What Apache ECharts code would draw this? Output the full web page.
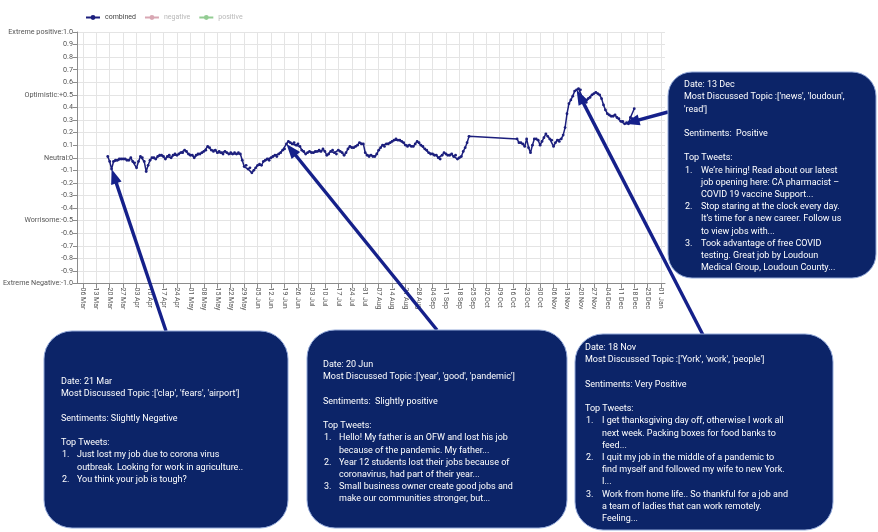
<!DOCTYPE html>
<html>
<head>
<meta charset="utf-8">
<script src="https://cdn.jsdelivr.net/npm/echarts@6/dist/echarts.min.js"></script>
<style>
  html, body { margin: 0; padding: 0; background: #ffffff; }
  #chart { width: 878px; height: 532px; }
</style>
</head>
<body>
<div id="chart"></div>
<script>
// ---- data -------------------------------------------------------------
// x positions are day numbers counted from 06 Mar 2020
const axisStartDate = '2020-03-06';

// daily combined sentiment, first stretch (starts 19 Mar)
const stretchOneStart = '2020-03-19';
const stretchOneValues = [
  0.01, -0.03, -0.09, -0.03, -0.02, -0.02, -0.01, -0.01, -0.01, -0.01,
  -0.02, -0.02, 0.00, -0.03, -0.04, -0.08, -0.03, 0.01, 0.00, -0.03,
  -0.11, -0.06, -0.02, 0.00, 0.00, -0.01, 0.01, 0.02, 0.02, 0.01,
  -0.01, 0.01, 0.02, 0.00, 0.02, 0.03, 0.02, 0.03, 0.04, 0.04,
  0.06, 0.05, 0.03, 0.02, 0.02, 0.00, 0.02, 0.03, 0.03, 0.04,
  0.05, 0.06, 0.09, 0.08, 0.06, 0.05, 0.06, 0.04, 0.05, 0.04,
  0.03, 0.05, 0.04, 0.03, 0.04, 0.03, 0.04, 0.03, 0.04, 0.03,
  -0.02, -0.07, -0.06, -0.09, -0.08, -0.12, -0.10, -0.08, -0.06, -0.05,
  -0.06, -0.03, -0.02, -0.01, -0.02, 0.00, 0.01, 0.02, 0.01, 0.03,
  0.04, 0.06, 0.07, 0.11, 0.13, 0.12, 0.11, 0.12, 0.10, 0.11,
  0.09, 0.06, 0.05, 0.03, 0.04, 0.05, 0.04, 0.04, 0.05, 0.05,
  0.06, 0.05, 0.07, 0.05, 0.02, 0.03, 0.05, 0.06, 0.04, 0.03,
  0.06, 0.05, 0.04, 0.02, 0.04, 0.07, 0.09, 0.08, 0.08, 0.09,
  0.10, 0.12, 0.11, 0.11, 0.04, 0.02, 0.01, 0.02, 0.01, 0.01,
  0.03, 0.06, 0.08, 0.10, 0.09, 0.11, 0.11, 0.12, 0.13, 0.14,
  0.15, 0.14, 0.14, 0.13, 0.12, 0.10, 0.09, 0.10, 0.09, 0.09,
  0.11, 0.13, 0.12, 0.10, 0.09, 0.07, 0.06, 0.04, 0.03, 0.03,
  0.02, 0.02, 0.00, -0.01, 0.02, 0.04, 0.03, 0.02, 0.02, 0.03,
  0.01, 0.02, -0.01, 0.00, 0.01, 0.05, 0.08, 0.12, 0.17
];

// daily combined sentiment, second stretch (starts 18 Oct)
const stretchTwoStart = '2020-10-18';
const stretchTwoValues = [
  0.15, 0.12, 0.12, 0.11, 0.09, 0.15, 0.08, 0.04, 0.10, 0.15,
  0.15, 0.14, 0.10, 0.13, 0.16, 0.19, 0.17, 0.15, 0.14, 0.09,
  0.12, 0.14, 0.13, 0.15, 0.18, 0.24, 0.35, 0.43, 0.46, 0.49,
  0.53, 0.54, 0.55, 0.54, 0.48, 0.45, 0.44, 0.47, 0.48, 0.50,
  0.51, 0.52, 0.51, 0.50, 0.47, 0.42, 0.38, 0.35, 0.34, 0.33,
  0.33, 0.34, 0.32, 0.31, 0.29, 0.29, 0.27, 0.28, 0.27, 0.32,
  0.31, 0.39
];

const negativeValues = [];
const positiveValues = [];

// weekly x tick labels, 06 Mar 2020 .. 01 Jan 2021
const weekLabels = [
  '06 Mar', '13 Mar', '20 Mar', '27 Mar', '03 Apr', '10 Apr', '17 Apr', '24 Apr',
  '01 May', '08 May', '15 May', '22 May', '29 May', '05 Jun', '12 Jun', '19 Jun',
  '26 Jun', '03 Jul', '10 Jul', '17 Jul', '24 Jul', '31 Jul', '07 Aug', '14 Aug',
  '21 Aug', '28 Aug', '04 Sep', '11 Sep', '18 Sep', '25 Sep', '02 Oct', '09 Oct',
  '16 Oct', '23 Oct', '30 Oct', '06 Nov', '13 Nov', '20 Nov', '27 Nov', '04 Dec',
  '11 Dec', '18 Dec', '25 Dec', '01 Jan'
];

// y tick labels from +1.0 down to -1.0
const yTickLabels = [
  'Extreme positive:1.0', '0.9', '0.8', '0.7', '0.6', 'Optimistic:+0.5', '0.4', '0.3',
  '0.2', '0.1', 'Neutral:0', '-0.1', '-0.2', '-0.3', '-0.4', 'Worrisome:-0.5',
  '-0.6', '-0.7', '-0.8', '-0.9', 'Extreme Negative:-1.0'
];

// annotated days
const calloutDates = ['2020-03-21', '2020-06-20', '2020-12-13', '2020-11-18'];
const calloutTopics = [
  "['clap', 'fears', 'airport']",
  "['year', 'good', 'pandemic']",
  "['news', 'loudoun',\n'read']",
  "['York', 'work', 'people']"
];
const calloutSentiments = ['Slightly Negative', ' Slightly positive', ' Positive', 'Very Positive'];
const calloutTweets = [
  [
    'Just lost my job due to corona virus\noutbreak. Looking for work in agriculture..',
    'You think your job is tough?'
  ],
  [
    'Hello! My father is an OFW and lost his job\nbecause of the pandemic. My father...',
    'Year 12 students lost their jobs because of\ncoronavirus, had part of their year...',
    'Small business owner create good jobs and\nmake our communities stronger, but...'
  ],
  [
    'We\u2019re hiring! Read about our latest\njob opening here: CA pharmacist \u2013\nCOVID 19 vaccine Support...',
    'Stop staring at the clock every day.\nIt\u2019s time for a new career. Follow us\nto view jobs with...',
    'Took advantage of free COVID\ntesting. Great job by Loudoun\nMedical Group, Loudoun County...'
  ],
  [
    'I get thanksgiving day off, otherwise I work all\nnext week. Packing boxes for food banks to\nfeed...',
    'I quit my job in the middle of a pandemic to\nfind myself and followed my wife to new York.\nI...',
    'Work from home life.. So thankful for a job and\na team of ladies that can work remotely.\nFeeling...'
  ]
];

// ---- helpers ----------------------------------------------------------
const DAY = 86400000;
function dayNumber(iso) {
  return Math.round((Date.parse(iso + 'T00:00:00Z') - Date.parse(axisStartDate + 'T00:00:00Z')) / DAY);
}
function stretchPoints(startIso, values) {
  const d0 = dayNumber(startIso);
  return values.map((v, i) => [d0 + i, v]);
}
const combinedPoints = stretchPoints(stretchOneStart, stretchOneValues)
  .concat(stretchPoints(stretchTwoStart, stretchTwoValues));
const weekTicks = weekLabels.map((_, i) => i * 7);

// ---- chart ------------------------------------------------------------
const chart = echarts.init(document.getElementById('chart'), null, { renderer: 'canvas' });
const FONT = 'Roboto, "Liberation Sans", Arial, sans-serif';
const NAVY_LINE = '#1c1f7d';

chart.setOption({
  animation: false,
  backgroundColor: '#ffffff',
  textStyle: { fontFamily: FONT },
  legend: {
    left: 80, top: 9,
    itemWidth: 14, itemHeight: 6, itemGap: 8,
    textStyle: { fontSize: 7, color: '#444' },
    data: [
      { name: 'combined' },
      { name: 'negative', textStyle: { color: '#b8b8b8' } },
      { name: 'positive', textStyle: { color: '#b8b8b8' } }
    ]
  },
  grid: { left: 77, right: 213, top: 32, bottom: 248.5, containLabel: false },
  xAxis: {
    type: 'value',
    min: -3, max: 303,
    axisLine: { show: true, onZero: false, lineStyle: { color: '#8c8c8c', width: 1 } },
    axisTick: { show: true, length: 5, customValues: weekTicks, lineStyle: { color: '#8c8c8c' } },
    axisLabel: {
      customValues: weekTicks,
      rotate: -90, fontSize: 7, color: '#555', margin: 4,
      formatter: v => weekLabels[Math.round(v / 7)] || ''
    },
    splitLine: { show: true, lineStyle: { color: '#e4e4e4', width: 1 } }
  },
  yAxis: {
    type: 'value',
    min: -1, max: 1, interval: 0.1,
    axisLine: { show: true, onZero: false, lineStyle: { color: '#8c8c8c', width: 1 } },
    axisTick: { show: true, length: 4, lineStyle: { color: '#8c8c8c' } },
    axisLabel: {
      fontSize: 7.2, color: '#555', margin: 4,
      formatter: v => yTickLabels[Math.round((1 - v) * 10)] || ''
    },
    splitLine: { show: true, lineStyle: { color: '#e4e4e4', width: 1 } }
  },
  series: [
    {
      name: 'combined', type: 'line', data: combinedPoints,
      color: NAVY_LINE,
      lineStyle: { width: 1.5, color: NAVY_LINE },
      itemStyle: { color: NAVY_LINE },
      symbol: 'circle', symbolSize: 2.8, showSymbol: true, showAllSymbol: true,
      z: 3
    },
    {
      name: 'negative', type: 'line', data: negativeValues,
      color: '#d8a7b3', lineStyle: { color: '#d8a7b3', width: 1.3 },
      itemStyle: { color: '#d8a7b3' }, symbol: 'circle', symbolSize: 3
    },
    {
      name: 'positive', type: 'line', data: positiveValues,
      color: '#93cc93', lineStyle: { color: '#93cc93', width: 1.3 },
      itemStyle: { color: '#93cc93' }, symbol: 'circle', symbolSize: 3
    }
  ]
});

// ---- callout boxes and arrows -----------------------------------------
const BOX_FILL = '#0c2468';
const BOX_STROKE = '#93a9d9';
const ARROW = '#15208a';
const TEXT_FONT = '9px ' + FONT;

// box frames: [x, y, w, h, radius, text left, first line y, hanging indent, arrow start x, arrow start y]
const boxLayout = [
  [44, 331, 244, 197, 28, 61, 382, 16, 166, 331],
  [307, 330, 260, 198, 28, 323, 365, 16, 437, 330],
  [668, 72, 208, 206, 24, 684, 85, 17, 668, 112],
  [575, 334, 258, 196, 28, 585, 348, 17, 703, 335]
];
const LINE_H = 12.2;

function valueOn(iso) {
  const d = dayNumber(iso);
  const p = combinedPoints.find(q => q[0] === d);
  return [d, p ? p[1] : 0];
}

function formatDay(iso) {
  const dt = new Date(iso + 'T00:00:00Z');
  const months = ['Jan','Feb','Mar','Apr','May','Jun','Jul','Aug','Sep','Oct','Nov','Dec'];
  return dt.getUTCDate() + ' ' + months[dt.getUTCMonth()];
}

const elements = [];
calloutDates.forEach((iso, k) => {
  const [bx, by, bw, bh, br, tx, ty, indent, ax, ay] = boxLayout[k];

  // arrow from the box to the annotated point
  const tip = chart.convertToPixel({ gridIndex: 0 }, valueOn(iso));
  const dx = tip[0] - ax, dy = tip[1] - ay;
  const len = Math.sqrt(dx * dx + dy * dy);
  const ux = dx / len, uy = dy / len;
  const headLen = 15, headHalf = 5.5;
  const bxp = tip[0] - ux * headLen, byp = tip[1] - uy * headLen;
  elements.push({
    type: 'line', z: 20,
    shape: { x1: ax, y1: ay, x2: bxp + ux * 2, y2: byp + uy * 2 },
    style: { stroke: ARROW, lineWidth: 3.4 }
  });
  elements.push({
    type: 'polygon', z: 20,
    shape: { points: [[tip[0], tip[1]], [bxp - uy * headHalf, byp + ux * headHalf], [bxp + uy * headHalf, byp - ux * headHalf]] },
    style: { fill: ARROW }
  });

  // box
  elements.push({
    type: 'rect', z: 30,
    shape: { x: bx, y: by, width: bw, height: bh, r: br },
    style: { fill: BOX_FILL, stroke: BOX_STROKE, lineWidth: 1 }
  });

  // text, one element per line
  let row = 0;
  const put = (text, x) => {
    elements.push({
      type: 'text', z: 40,
      style: {
        text, x, y: ty + row * LINE_H, fill: '#ffffff', font: TEXT_FONT,
        verticalAlign: 'middle'
      }
    });
  };
  const putBlock = (text, x) => {
    text.split('\n').forEach(ln => { put(ln, x); row += 1; });
  };
  putBlock('Date: ' + formatDay(iso), tx);
  putBlock('Most Discussed Topic :' + calloutTopics[k], tx);
  row += 1;
  putBlock('Sentiments: ' + calloutSentiments[k], tx);
  row += 1;
  putBlock('Top Tweets:', tx);
  calloutTweets[k].forEach((tw, i) => {
    put((i + 1) + '.', tx + 1);
    putBlock(tw, tx + indent);
  });
});

chart.setOption({ graphic: { elements } });
</script>
</body>
</html>
